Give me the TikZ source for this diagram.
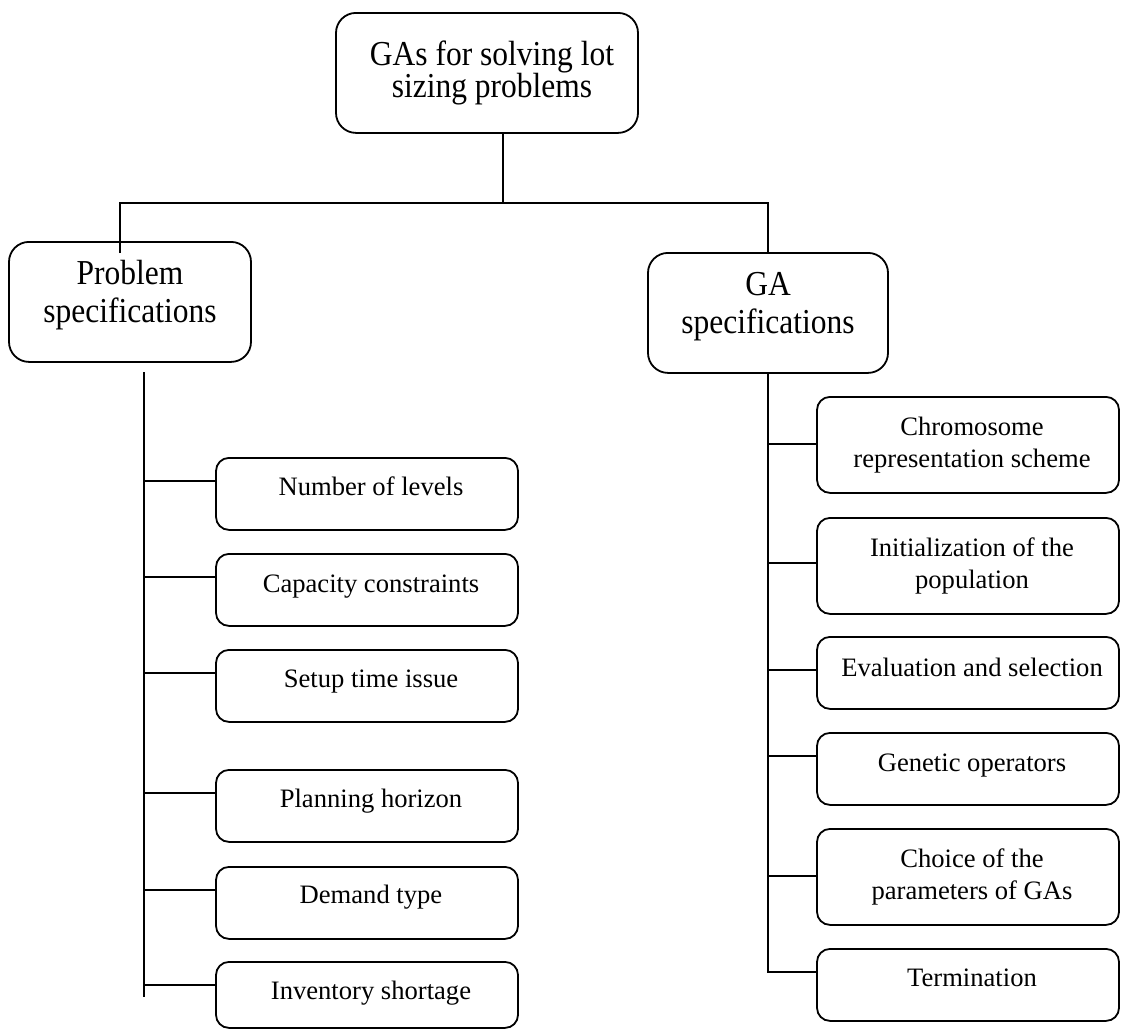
\documentclass[tikz,border=0pt]{standalone}
\usepackage{fontspec}
\setmainfont{Liberation Serif}
\newfontfamily\headfont[FakeStretch=0.9]{Liberation Serif}
\usetikzlibrary{calc}
\begin{document}
\begin{tikzpicture}[x=1pt,y=-1pt,line width=1.8pt,
  headbox/.style={draw,rounded corners=20pt,inner sep=0pt,minimum height=120pt,anchor=north},
  itembox/.style={draw,rounded corners=13pt,inner sep=0pt,minimum width=302pt,minimum height=72pt,anchor=north},
  itembox2/.style={itembox,minimum height=96pt},
  headtxt/.style={font=\headfont\fontsize{35}{37.5}\selectfont,inner sep=0pt,anchor=base,align=center},
  itemtxt/.style={font=\fontsize{26.6}{31.7}\selectfont,inner sep=0pt,anchor=base,align=center}]
\useasboundingbox (0,0) rectangle (1121,1029);

% root and the two main branches (multi-line text is placed by its last baseline)
\node[headbox,minimum width=302pt] (root) at (487,12) {};
\node[headtxt,font=\headfont\fontsize{35}{32}\selectfont] at ($(root.north)+(5,85)$) {GAs for solving lot\\sizing problems};
\node[headbox,minimum width=242pt] (prob) at (130,241) {};
\node[headtxt] at ($(prob.north)+(0,81)$) {Problem\\specifications};
\node[headbox,minimum width=240pt] (ga) at (768,252) {};
\node[headtxt] at ($(ga.north)+(0,81)$) {GA\\specifications};

\coordinate (bus) at (503,203);
\draw ($(root.south)+(16,0)$) -- (bus);
\draw ($(prob.north)+(-10,12)$) |- (bus) -| (ga.north);

% problem specifications
\node[itembox] (p1) at (367,457) {};
\node[itembox] (p2) at (367,553) {};
\node[itembox] (p3) at (367,649) {};
\node[itembox] (p4) at (367,769) {};
\node[itembox] (p5) at (367,866) {};
\node[itembox,minimum height=66pt] (p6) at (367,961) {};
\node[itemtxt] at ($(p1.north)+(4,38)$) {Number of levels};
\node[itemtxt] at ($(p2.north)+(4,39)$) {Capacity constraints};
\node[itemtxt] at ($(p3.north)+(4,38)$) {Setup time issue};
\node[itemtxt] at ($(p4.north)+(4,38)$) {Planning horizon};
\node[itemtxt] at ($(p5.north)+(4,37)$) {Demand type};
\node[itemtxt] at ($(p6.north)+(4,38)$) {Inventory shortage};

\coordinate (ltop) at (144,372);
\coordinate (lbot) at (144,997);
\draw (ltop) -- (lbot);
\foreach \n in {p1,p2,p3,p4,p5,p6}
  \draw ($(\n.north west)+(0,24)$) -- (ltop |- {$(\n.north west)+(0,24)$});

% GA specifications
\node[itembox2] (g1) at (968,396) {};
\node[itembox2] (g2) at (968,517) {};
\node[itembox] (g3) at (968,636) {};
\node[itembox] (g4) at (968,732) {};
\node[itembox2] (g5) at (968,828) {};
\node[itembox] (g6) at (968,948) {};
\node[itemtxt] at ($(g1.north)+(4,71)$) {Chromosome\\representation scheme};
\node[itemtxt] at ($(g2.north)+(4,71)$) {Initialization of the\\population};
\node[itemtxt] at ($(g3.north)+(4,40)$) {Evaluation and selection};
\node[itemtxt] at ($(g4.north)+(4,39)$) {Genetic operators};
\node[itemtxt] at ($(g5.north)+(4,71)$) {Choice of the\\parameters of GAs};
\node[itemtxt] at ($(g6.north)+(4,38)$) {Termination};

\coordinate (c1) at ($(g1.north west)+(0,48)$);
\coordinate (c2) at ($(g2.north west)+(0,46)$);
\coordinate (c3) at ($(g3.north west)+(0,34)$);
\coordinate (c4) at ($(g4.north west)+(0,24)$);
\coordinate (c5) at ($(g5.north west)+(0,48)$);
\coordinate (c6) at ($(g6.north west)+(0,24)$);
\draw (ga.south) |- (c6);
\foreach \c in {c1,c2,c3,c4,c5}
  \draw (\c) -- (ga.south |- \c);
\end{tikzpicture}
\end{document}
